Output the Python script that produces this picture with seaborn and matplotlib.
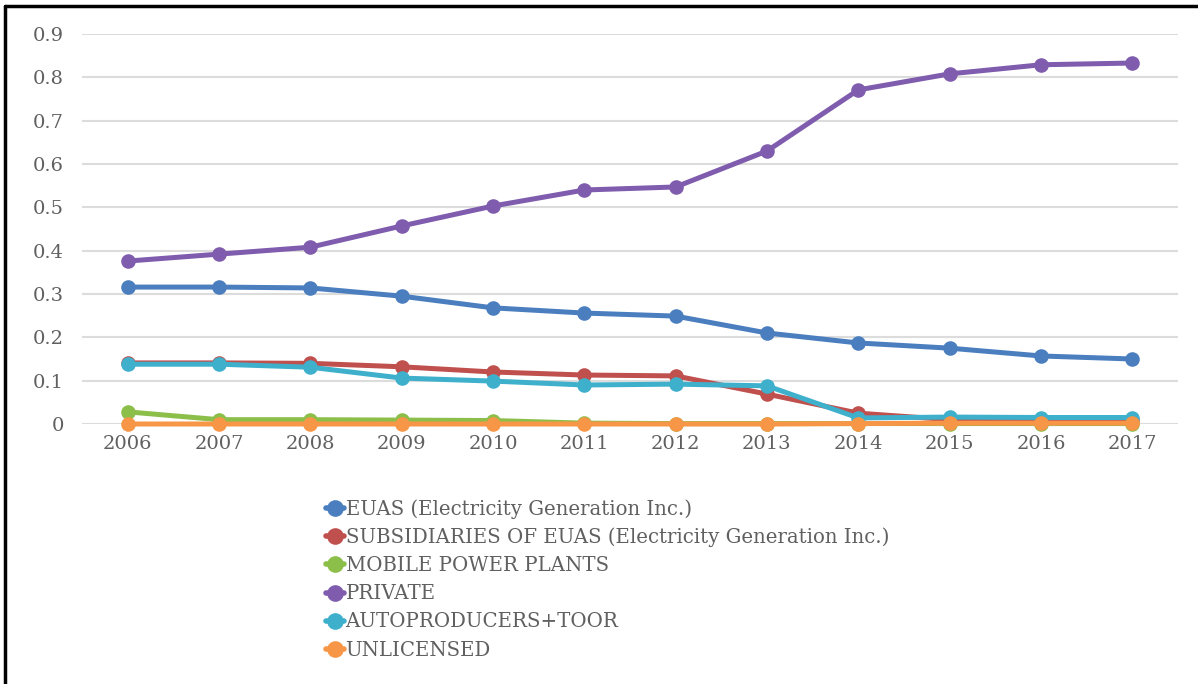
import matplotlib
matplotlib.use("Agg")
import matplotlib.pyplot as plt
from matplotlib.lines import Line2D
import seaborn as sns
import pandas as pd

years = ["2006", "2007", "2008", "2009", "2010", "2011",
         "2012", "2013", "2014", "2015", "2016", "2017"]

euas = [0.316, 0.316, 0.314, 0.295, 0.268, 0.256, 0.249, 0.210, 0.187, 0.175, 0.157, 0.150]
subsidiaries = [0.141, 0.141, 0.140, 0.132, 0.120, 0.113, 0.111, 0.069, 0.025, 0.010, 0.010, 0.010]
mobile = [0.028, 0.010, 0.010, 0.009, 0.008, 0.002, 0.001, 0.001, 0.001, 0.001, 0.001, 0.001]
private = [0.376, 0.392, 0.408, 0.457, 0.503, 0.540, 0.547, 0.630, 0.771, 0.808, 0.829, 0.833]
autoproducers = [0.138, 0.138, 0.131, 0.106, 0.099, 0.090, 0.092, 0.088, 0.014, 0.016, 0.015, 0.015]
unlicensed = [0.0, 0.0, 0.0, 0.0, 0.0, 0.0, 0.0, 0.0, 0.001, 0.002, 0.002, 0.002]

series_names = [
    "EUAS (Electricity Generation Inc.)",
    "SUBSIDIARIES OF EUAS (Electricity Generation Inc.)",
    "MOBILE POWER PLANTS",
    "PRIVATE",
    "AUTOPRODUCERS+TOOR",
    "UNLICENSED",
]
series_values = [euas, subsidiaries, mobile, private, autoproducers, unlicensed]
colors = ["#4a7ebf", "#c0504d", "#8cbf4a", "#7f5cad", "#3fb0cc", "#f79646"]

rows = []
for name, vals in zip(series_names, series_values):
    for i, v in enumerate(vals):
        rows.append({"idx": i, "value": v, "series": name})
df = pd.DataFrame(rows)

sns.set_theme(style="white")
plt.rcParams["font.family"] = ["DejaVu Serif"]

fig = plt.figure(figsize=(11.98, 6.84), dpi=100)
ax = fig.add_axes([82 / 1198, 1 - 424 / 684, (1178 - 82) / 1198, (424 - 34) / 684])

for name, col in zip(series_names, colors):
    sub = df[df["series"] == name]
    sns.lineplot(data=sub, x="idx", y="value", ax=ax, color=col,
                 linewidth=3.6, marker="o", markersize=10.5,
                 markeredgewidth=0, clip_on=False, legend=False)

ax.set_xlim(-0.5, len(years) - 0.5)
ax.set_ylim(0, 0.9)
ax.set_xticks(range(len(years)))
ax.set_xticklabels(years)
yt = [0, 0.1, 0.2, 0.3, 0.4, 0.5, 0.6, 0.7, 0.8, 0.9]
ax.set_yticks(yt)
ax.set_yticklabels(["0"] + [f"{t:.1f}" for t in yt[1:]])
ax.grid(axis="y", color="#dcdcdc", linewidth=1.5)
ax.grid(axis="x", visible=False)
for s in ax.spines.values():
    s.set_visible(False)
ax.tick_params(axis="both", length=0, labelsize=14, colors="#606060")
ax.tick_params(axis="y", pad=13)
ax.tick_params(axis="x", pad=8)
ax.set_xlabel("")
ax.set_ylabel("")

handles = [Line2D([0], [0], color=c, linewidth=4, marker="o", markersize=12,
                  markeredgewidth=0) for c in colors]
leg = fig.legend(handles, series_names, loc="upper left",
                 bbox_to_anchor=(318 / 1198, 1 - 491 / 684),
                 frameon=False, fontsize=14.2, handlelength=0.9,
                 handletextpad=0.1, labelspacing=0.46, borderaxespad=0)
for t in leg.get_texts():
    t.set_color("#606060")

# black frame lines along the top and left edges
fig.add_artist(Line2D([5 / 1198, 1], [1 - 6 / 684, 1 - 6 / 684],
                      transform=fig.transFigure, color="black", linewidth=2.5))
fig.add_artist(Line2D([5 / 1198, 5 / 1198], [0, 1 - 6 / 684],
                      transform=fig.transFigure, color="black", linewidth=2.5))

fig.savefig("out.png", dpi=100)
